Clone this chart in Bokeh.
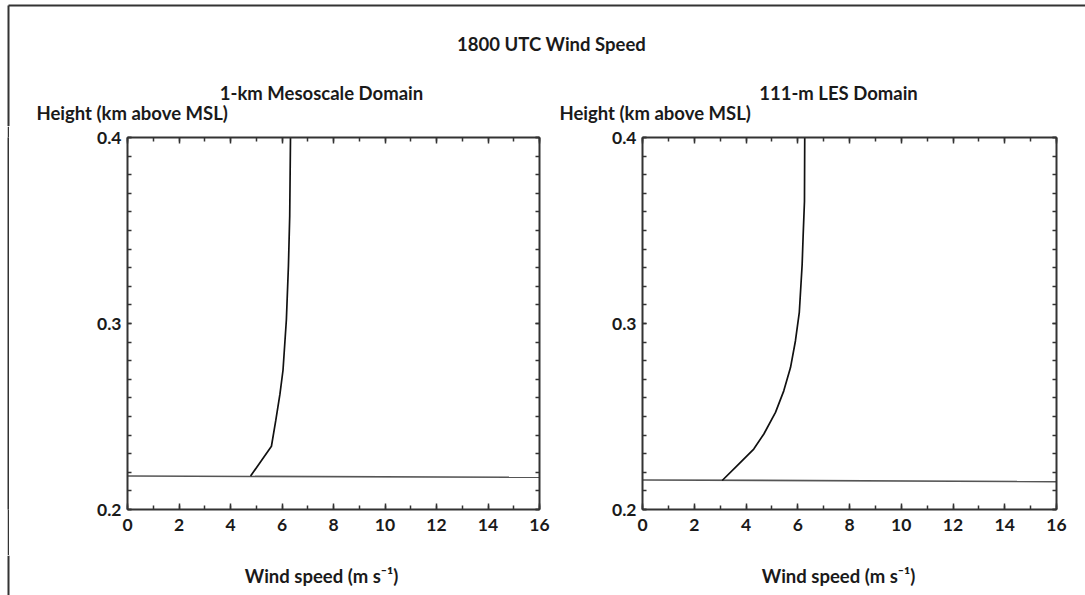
from bokeh.plotting import figure
from bokeh.layouts import column, row
from bokeh.models import Range1d, LinearAxis, FixedTicker, Label, CustomLabelingPolicy
from bokeh.embed import file_html
from bokeh.resources import INLINE

FONT = "Lato"
INK = "#1a1a1a"
FRAME = "#333333"
TEXT_SIZE = "18.5px"

# axis ticks
speed_ticks = [0, 2, 4, 6, 8, 10, 12, 14, 16]
speed_minor = list(range(0, 17))
height_ticks = [0.2, 0.3, 0.4]
height_minor = [round(0.2 + 0.01 * i, 2) for i in range(21)]

# 1-km mesoscale domain: wind speed profile (m/s) vs height (km MSL)
meso_speed = [4.78, 5.59, 5.76, 5.92, 6.04, 6.17, 6.25, 6.30, 6.33]
meso_height = [0.218, 0.234, 0.248, 0.262, 0.275, 0.302, 0.331, 0.358, 0.400]
# terrain surface height across the section
meso_sfc_speed = [0, 16]
meso_sfc_height = [0.2180, 0.2173]

# 111-m LES domain
les_speed = [3.08, 3.66, 4.30, 4.69, 5.14, 5.46, 5.72, 5.91, 6.06, 6.17, 6.21, 6.26, 6.27]
les_height = [0.2156, 0.2236, 0.2325, 0.2406, 0.2522, 0.2638, 0.2763, 0.2906,
              0.3060, 0.3317, 0.3478, 0.3657, 0.400]
les_sfc_speed = [0, 16]
les_sfc_height = [0.2159, 0.2150]

HEADER_H = 126
FOOTER_H = 40
PANEL_H = 595 - HEADER_H - FOOTER_H


def style_axis(ax, ticks, minor, show_labels, major_in, minor_in, standoff):
    ax.ticker = FixedTicker(ticks=ticks, minor_ticks=minor)
    ax.axis_line_color = FRAME
    ax.axis_line_width = 2
    ax.major_tick_in = major_in
    ax.major_tick_out = 0
    ax.minor_tick_in = minor_in
    ax.minor_tick_out = 0
    ax.major_tick_line_color = FRAME
    ax.major_tick_line_width = 1.5
    ax.minor_tick_line_color = FRAME
    ax.minor_tick_line_width = 1.5
    ax.major_label_text_font = FONT
    ax.major_label_text_font_style = "bold"
    ax.major_label_text_color = INK
    if show_labels:
        ax.major_label_text_font_size = "17.5px"
        ax.major_label_standoff = standoff
    else:
        # tick marks only on the opposite sides of the box
        ax.major_label_text_font_size = "0px"
        ax.major_label_standoff = 0
        ax.major_label_policy = CustomLabelingPolicy(code="return new Set()")


def panel(width, bl, br, bt, bb, speed, height, sfc_speed, sfc_height):
    p = figure(width=width, height=PANEL_H, x_range=Range1d(0, 16), y_range=Range1d(0.2, 0.4),
               x_axis_type=None, y_axis_type=None, toolbar_location=None,
               output_backend="svg", min_border_left=bl, min_border_right=br,
               min_border_top=bt, min_border_bottom=bb)
    p.outline_line_color = None
    for loc, show in (("below", True), ("above", False)):
        ax = LinearAxis()
        style_axis(ax, speed_ticks, speed_minor, show, 6, 4, 9)
        p.add_layout(ax, loc)
    for loc, show in (("left", True), ("right", False)):
        ax = LinearAxis()
        style_axis(ax, height_ticks, height_minor, show, 4, 4, 6)
        p.add_layout(ax, loc)
    p.line(sfc_speed, sfc_height, line_color="#555555", line_width=1.6)
    p.line(speed, height, line_color="#111111", line_width=1.7)
    return p


def text(p, s, x, y, align="center"):
    p.add_layout(Label(x=x, y=y, x_units="screen", y_units="screen", text=s,
                       text_align=align, text_baseline="middle", text_font=FONT,
                       text_font_style="bold", text_font_size=TEXT_SIZE, text_color=INK))


def strip_fig(width, height, fill="white"):
    f = figure(width=width, height=height, x_range=Range1d(0, width), y_range=Range1d(0, height),
               x_axis_type=None, y_axis_type=None, toolbar_location=None,
               output_backend="svg", min_border=0)
    f.outline_line_color = None
    f.background_fill_color = fill
    f.border_fill_color = fill
    return f


left = panel(545, 117, 16, 11, 45, meso_speed, meso_height, meso_sfc_speed, meso_sfc_height)
right = panel(530, 87, 29, 10, 46, les_speed, les_height, les_sfc_speed, les_sfc_height)

# header: overall title, panel titles, vertical-axis captions, box rule
header = strip_fig(1085, HEADER_H)
header.segment(x0=[8, 8], y0=[HEADER_H - 5, HEADER_H - 5], x1=[1085, 8], y1=[HEADER_H - 5, 0],
               line_color=FRAME, line_width=2)
text(header, "1800 UTC Wind Speed", 551, HEADER_H - 43)
text(header, "1-km Mesoscale Domain", 321, HEADER_H - 92)
text(header, "111-m LES Domain", 838, HEADER_H - 92)
text(header, "Height (km above MSL)", 36, HEADER_H - 112, align="left")
text(header, "Height (km above MSL)", 559, HEADER_H - 112, align="left")

# left rule of the box beside the panels
pad_a = strip_fig(7, PANEL_H)
rule = strip_fig(2, PANEL_H, fill=FRAME)
pad_b = strip_fig(1, PANEL_H)

footer = strip_fig(1085, FOOTER_H)
footer.segment(x0=[8], y0=[0], x1=[8], y1=[FOOTER_H], line_color=FRAME, line_width=2)
text(footer, "Wind speed (m s\u207b\u00b9)", 321, 20)
text(footer, "Wind speed (m s\u207b\u00b9)", 838, 20)

layout = column(header, row(pad_a, rule, pad_b, left, right, spacing=0), footer, spacing=0)

with open("out.html", "w") as f:
    f.write(file_html(layout, INLINE))
